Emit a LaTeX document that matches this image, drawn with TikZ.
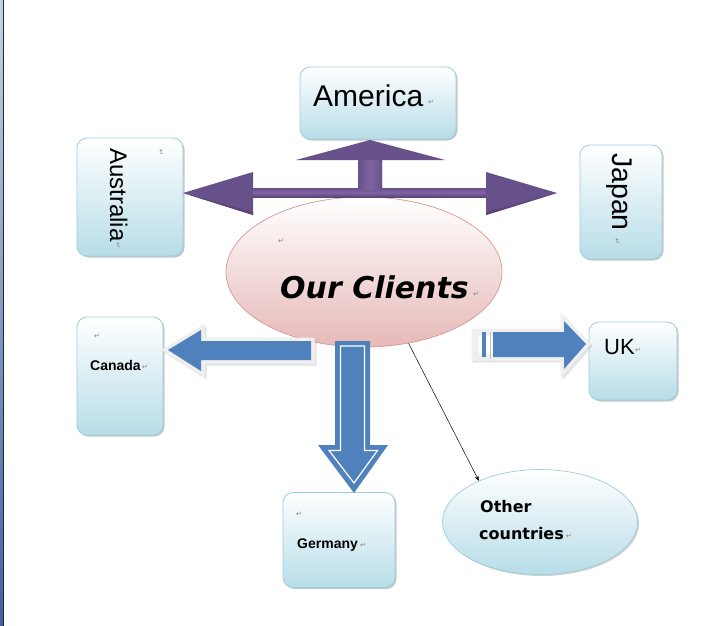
\documentclass[tikz,border=0pt]{standalone}
\usepackage{fontspec}
\setmainfont{Liberation Sans}
\newfontfamily\dvs{DejaVu Sans}
\usetikzlibrary{shapes.geometric,shadows,arrows.meta}
\definecolor{boxbot}{HTML}{B7DDE8}
\definecolor{boxline}{HTML}{9CCFDD}
\definecolor{pinkbot}{HTML}{E6B9B8}
\definecolor{pinkline}{HTML}{D99694}
\definecolor{arrblue}{HTML}{4F81BD}
\definecolor{purp}{HTML}{66518B}
\definecolor{purpl}{HTML}{8064A2}
\definecolor{purpd}{HTML}{594677}
\definecolor{rimgray}{HTML}{EFEFEF}
\definecolor{stripL}{HTML}{C6D2E6}
\definecolor{stripD}{HTML}{3E62A3}
\tikzset{
  cbox/.style={rectangle, rounded corners=10pt, draw=boxline, line width=0.8pt,
    top color=white, bottom color=boxbot, inner sep=0pt,
    drop shadow={shadow xshift=1.5pt, shadow yshift=-1.5pt, fill=black, opacity=0.22}},
  cell/.style={ellipse, line width=0.7pt, inner sep=0pt},
  txt/.style={inner sep=0pt, anchor=base west},
  pm/.style={inner sep=0pt, font=\dvs\fontsize{7}{7}\selectfont, text=gray},
  rim/.style={draw=rimgray, line width=7pt, line join=miter},
  rimshadow/.style={draw=black!30, fill=black!30, line width=7pt, line join=miter},
}
\begin{document}
\begin{tikzpicture}[x=1pt, y=-1pt]
\useasboundingbox (0,0) rectangle (720,626);
\fill[white] (0,0) rectangle (720,626);
% left edge strip
\shade[top color=stripL, bottom color=stripD] (0,0) rectangle (3,626);
\draw[black!85, line width=1pt] (3.5,0) -- (3.5,626);

% central ellipse
\node[cell, draw=pinkline, top color=white, bottom color=pinkbot,
      minimum width=276pt, minimum height=150pt] (clients) at (364,272) {};

% purple double arrow with up branch
\fill[purp] (183,193) -- (253,172) -- (253,188) -- (358,188) -- (358,160) -- (296,160)
  -- (370,140) -- (445,160) -- (382,160) -- (382,188) -- (486,188) -- (486,172)
  -- (557,193) -- (486,215) -- (486,197) -- (253,197) -- (253,215) -- cycle;
\shade[top color=purp, bottom color=purpd, middle color=purpl] (253,188) rectangle (486,197);
\shade[left color=purp, right color=purp, middle color=purpl] (358,160) rectangle (382,189);
\fill[purpd] (183,193) -- (253,215) -- (253,212) -- cycle;
\fill[purpd] (557,193) -- (486,215) -- (486,212) -- cycle;

% boxes
\node[cbox, minimum width=156pt, minimum height=72pt] (america) at (378,103) {};
\node[cbox, minimum width=106pt, minimum height=118pt] (australia) at (130,197) {};
\node[cbox, minimum width=82pt, minimum height=114pt] (japan) at (621,202) {};
\node[cbox, minimum width=86pt, minimum height=118pt] (canada) at (120,376) {};
\node[cbox, minimum width=88pt, minimum height=78pt] (uk) at (633,361) {};
\node[cbox, minimum width=112pt, minimum height=95pt] (germany) at (339,540) {};
\node[cell, draw=boxline, top color=white, bottom color=boxbot,
      minimum width=195pt, minimum height=105pt,
      drop shadow={shadow xshift=1.5pt, shadow yshift=-1.5pt, fill=black, opacity=0.18}] (other) at (540,522) {};

% Canada arrow (left)
\path[rimshadow, draw opacity=0.35, fill opacity=0.35] (170,352) -- (203,332) -- (203,343) -- (313,343) -- (313,362) -- (203,362) -- (203,373) -- cycle;
\path[rim, fill=arrblue] (168,350) -- (201,330) -- (201,341) -- (311,341) -- (311,360) -- (201,360) -- (201,371) -- cycle;
\fill[arrblue] (168,350) -- (201,330) -- (201,341) -- (311,341) -- (311,360) -- (201,360) -- (201,371) -- cycle;

% UK arrow (striped right)
\path[rimshadow, draw opacity=0.35, fill opacity=0.35] (476,334) -- (566,334) -- (566,323) -- (588,346) -- (566,371) -- (566,359) -- (476,359) -- cycle;
\path[rim, fill=white] (475,332) -- (564,332) -- (564,321) -- (586,344) -- (564,369) -- (564,357) -- (475,357) -- cycle;
\fill[arrblue] (493,332) -- (564,332) -- (564,321) -- (586,344) -- (564,369) -- (564,357) -- (493,357) -- cycle;
\fill[arrblue] (482,332) rectangle (485.5,357);
\draw[black!25, line width=0.6pt] (490,332) -- (490,359);

% Germany arrow (down, with inner white line)
\fill[arrblue] (335,341) -- (370,341) -- (370,445) -- (388,445) -- (354,493) -- (318,445) -- (335,445) -- cycle;
\draw[white, line width=1.2pt, line join=miter] (340.5,346) -- (364.5,346) -- (364.5,450.5) -- (377.5,450.5) -- (354,483) -- (329,450.5) -- (340.5,450.5) -- cycle;

% connector to other countries
\draw[black, line width=0.5pt, -{Stealth[length=5pt, width=4pt]}] (clients.-58) -- (other.146);

% texts
\node[txt, font=\fontsize{30}{30}\selectfont] (americaT) at (313,106) {America};
\node[pm] (americaP) at (431,102) {↵};
\node[txt, rotate=-90, font=\fontsize{24}{24}\selectfont] (australiaT) at (110,148) {Australia};
\node[pm, rotate=-90] (australiaP1) at (161,152) {↵};
\node[pm, rotate=-90] (australiaP2) at (118,245) {↵};
\node[txt, rotate=-90, font=\fontsize{28.5}{28.5}\selectfont] (japanT) at (612,153) {Japan};
\node[pm, rotate=-90] (japanP) at (617,241) {↵};
\node[txt, font=\dvs\bfseries\itshape\fontsize{30}{30}\selectfont] (clientsT) at (280,298) {Our Clients};
\node[pm] (clientsP1) at (281,241) {↵};
\node[pm] (clientsP2) at (476,294) {↵};
\node[txt, font=\bfseries\fontsize{14}{14}\selectfont] (canadaT) at (90,370) {Canada};
\node[pm] (canadaP1) at (97,336) {↵};
\node[pm] (canadaP2) at (145,367) {↵};
\node[txt, font=\fontsize{22}{22}\selectfont] (ukT) at (604,354) {UK};
\node[pm] (ukP) at (638,350) {↵};
\node[txt, font=\bfseries\fontsize{14}{14}\selectfont] (germanyT) at (297,548) {Germany};
\node[pm] (germanyP1) at (299,514) {↵};
\node[pm] (germanyP2) at (363,545) {↵};
\node[txt, font=\dvs\bfseries\fontsize{16}{16}\selectfont] (otherT1) at (480,512) {Other};
\node[txt, font=\dvs\bfseries\fontsize{16}{16}\selectfont] (otherT2) at (479,539) {countries};
\node[pm] (otherP) at (569,536) {↵};
\end{tikzpicture}
\end{document}
